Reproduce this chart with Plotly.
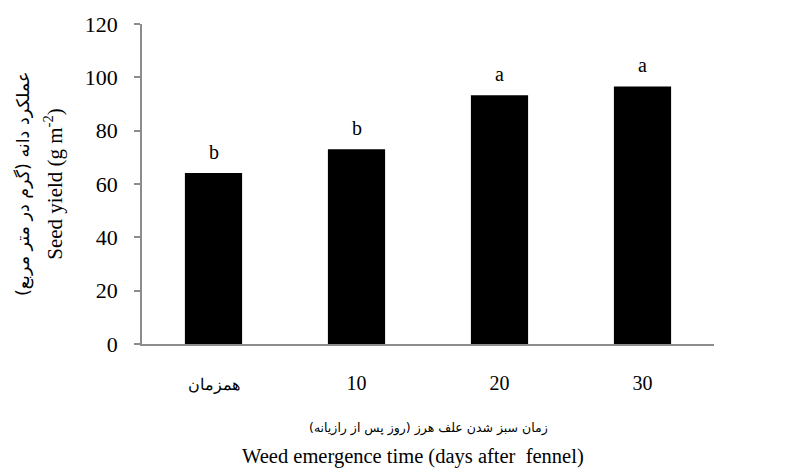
import plotly.graph_objects as go

# Emergence time of the weed relative to fennel
categories = ["همزمان", "10", "20", "30"]
seed_yield = [64.1, 73.0, 93.3, 96.6]
letters = ["b", "b", "a", "a"]
y_ticks = [0, 20, 40, 60, 80, 100, 120]

positions = list(range(len(categories)))

SERIF = "Liberation Serif"
ARABIC = "DejaVu Sans"
AXIS_GREY = "#8c8c8c"

# The Persian category name is set a little smaller than the numerals
tick_text = [
    f'<span style="font-size:16px">{c}</span>' if not c.isdigit() else c
    for c in categories
]

fig = go.Figure(
    go.Bar(
        x=positions,
        y=seed_yield,
        width=0.4,
        marker=dict(color="black", line=dict(width=0)),
        showlegend=False,
        hoverinfo="y",
    )
)

# Significance letters above each bar
for pos, val, lab in zip(positions, seed_yield, letters):
    fig.add_annotation(
        x=pos, y=val, text=lab, showarrow=False,
        yanchor="bottom", yshift=8,
        font=dict(family=SERIF, size=20, color="black"),
    )

# Two-line y-axis title (Persian above, English below)
fig.add_annotation(
    xref="paper", yref="paper", x=-0.208, y=0.5,
    xanchor="center", yanchor="middle",
    text="عملکرد دانه (گرم در متر مربع)", textangle=-90, showarrow=False,
    font=dict(family=ARABIC, size=17.5, color="black"),
)
fig.add_annotation(
    xref="paper", yref="paper", x=-0.156, y=0.5,
    xanchor="center", yanchor="middle",
    text="Seed yield (g m<sup>-2</sup>)", textangle=-90, showarrow=False,
    font=dict(family=SERIF, size=21, color="black"),
)

# Two-line x-axis title
fig.add_annotation(
    xref="paper", yref="paper", x=0.5, y=-0.262,
    xanchor="center", yanchor="middle",
    text="زمان سبز شدن علف هرز (روز پس از رازیانه)", showarrow=False,
    font=dict(family=ARABIC, size=12.5, color="black"),
)
fig.add_annotation(
    xref="paper", yref="paper", x=0.473, y=-0.353,
    xanchor="center", yanchor="middle",
    text="Weed emergence time (days after  fennel)", showarrow=False,
    font=dict(family=SERIF, size=20.5, color="black"),
)

fig.update_layout(
    width=786, height=476,
    margin=dict(l=142, r=72, t=24, b=132),
    paper_bgcolor="white", plot_bgcolor="white",
    font=dict(family=SERIF, size=20, color="black"),
)
fig.update_xaxes(
    range=[-0.5, len(categories) - 0.5],
    tickvals=positions, ticktext=tick_text, tickangle=0,
    showline=True, linecolor=AXIS_GREY, linewidth=1.5,
    ticks="", showgrid=False, zeroline=False,
    tickfont=dict(family=SERIF, size=20, color="black"),
    ticklabelstandoff=20,
)
fig.update_yaxes(
    range=[0, 120], tickvals=y_ticks,
    showline=True, linecolor=AXIS_GREY, linewidth=1.5,
    ticks="outside", ticklen=6, tickcolor=AXIS_GREY, tickwidth=1.5,
    showgrid=False, zeroline=False,
    tickfont=dict(family=SERIF, size=22, color="black"),
    ticklabelstandoff=12,
)

fig.write_html("out.html")
